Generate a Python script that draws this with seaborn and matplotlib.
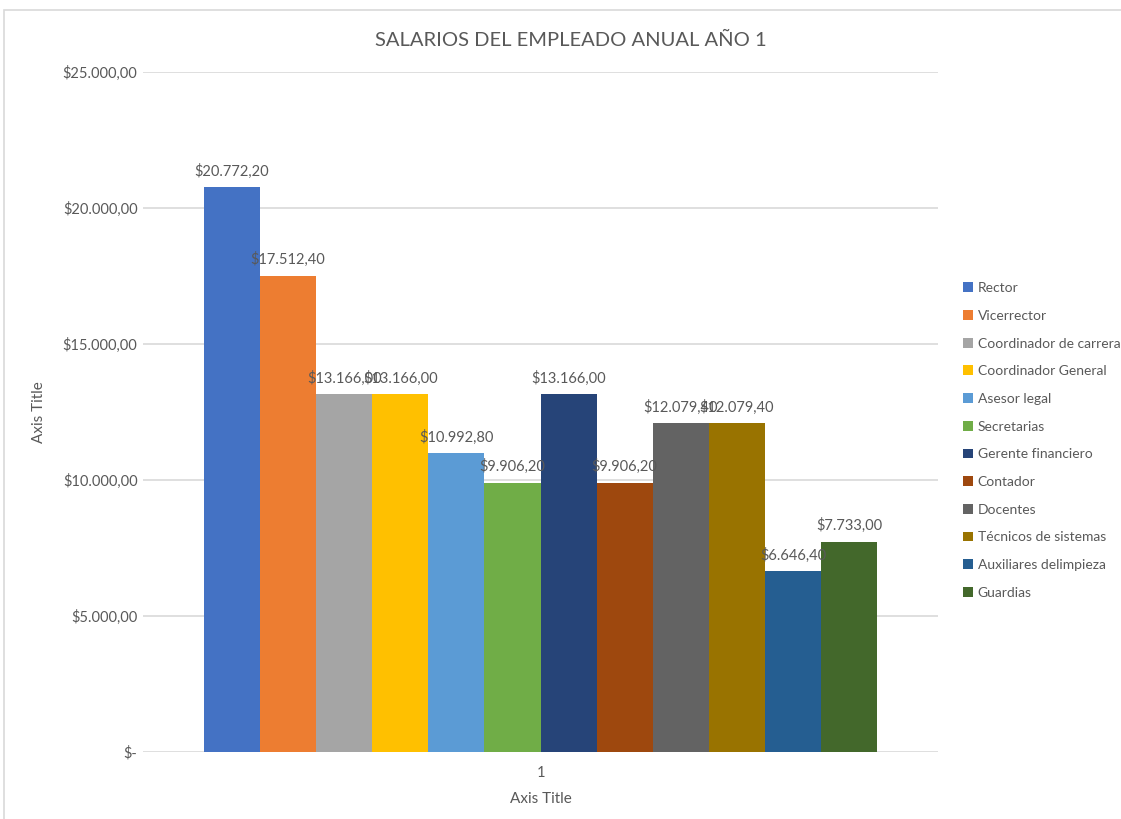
import pandas as pd
import seaborn as sns
import matplotlib.pyplot as plt
from matplotlib.patches import Patch, Rectangle
from matplotlib.ticker import FuncFormatter

# datos
cargos = ['Rector', 'Vicerrector', 'Coordinador de carrera', 'Coordinador General',
          'Asesor legal', 'Secretarias', 'Gerente financiero', 'Contador', 'Docentes',
          'Técnicos de sistemas', 'Auxiliares delimpieza', 'Guardias']
salarios = [20772.20, 17512.40, 13166.00, 13166.00, 10992.80, 9906.20,
            13166.00, 9906.20, 12079.40, 12079.40, 6646.40, 7733.00]
grupo = ['1'] * len(cargos)
colores = ['#4472C4', '#ED7D31', '#A5A5A5', '#FFC000', '#5B9BD5', '#70AD47',
           '#264478', '#9E480E', '#636363', '#997300', '#255E91', '#43682B']

df = pd.DataFrame({'grupo': grupo, 'cargo': cargos, 'salario': salarios})

sns.set_style('white')
plt.rcParams['font.family'] = ['Lato', 'DejaVu Sans']
gris = '#595959'

def moneda(v, pos=None):
    if v == 0:
        return '$-'
    s = f'{v:,.2f}'.replace(',', 'X').replace('.', ',').replace('X', '.')
    return '$' + s

fig = plt.figure(figsize=(11.21, 8.19), dpi=100)
ax = fig.add_axes([0.1276, 0.0818, 0.7092, 0.8303])

sns.barplot(data=df, x='grupo', y='salario', hue='cargo', palette=colores,
            width=0.847, saturation=1, linewidth=0, legend=False, ax=ax)

for cont, v in zip(ax.containers, salarios):
    ax.bar_label(cont, labels=[moneda(v)], padding=6, fontsize=10.5, color=gris)

ax.set_ylim(0, 25000)
ax.set_xlim(-0.5, 0.5)
ax.set_yticks(range(0, 25001, 5000))
ax.yaxis.set_major_formatter(FuncFormatter(moneda))
ax.grid(axis='y', color='#D9D9D9', linewidth=1.2)
ax.set_axisbelow(True)
for sp in ax.spines.values():
    sp.set_visible(False)
ax.tick_params(axis='both', length=0, labelsize=10.5, labelcolor=gris)
ax.tick_params(axis='y', pad=4)
ax.tick_params(axis='x', pad=10)
ax.set_xlabel('Axis Title', fontsize=11, color=gris, labelpad=9)
ax.set_ylabel('Axis Title', fontsize=11, color=gris, labelpad=12)

fig.text(0.509, 0.951, 'SALARIOS DEL EMPLEADO ANUAL AÑO 1', ha='center', va='center',
         fontsize=14.5, color=gris)

handles = [Patch(facecolor=c, edgecolor='none') for c in colores]
fig.legend(handles, cargos, loc='upper left', bbox_to_anchor=(0.853, 0.664),
           frameon=False, fontsize=10, labelcolor=gris, handlelength=0.7,
           handleheight=0.7, handletextpad=0.35, labelspacing=1.13, borderpad=0)

# borde del grafico
fig.patches.append(Rectangle((0.004, -0.1), 1.1, 1.0878, transform=fig.transFigure,
                             fill=False, edgecolor='#D9D9D9', linewidth=1.2))

plt.savefig('out.png', dpi=100)
